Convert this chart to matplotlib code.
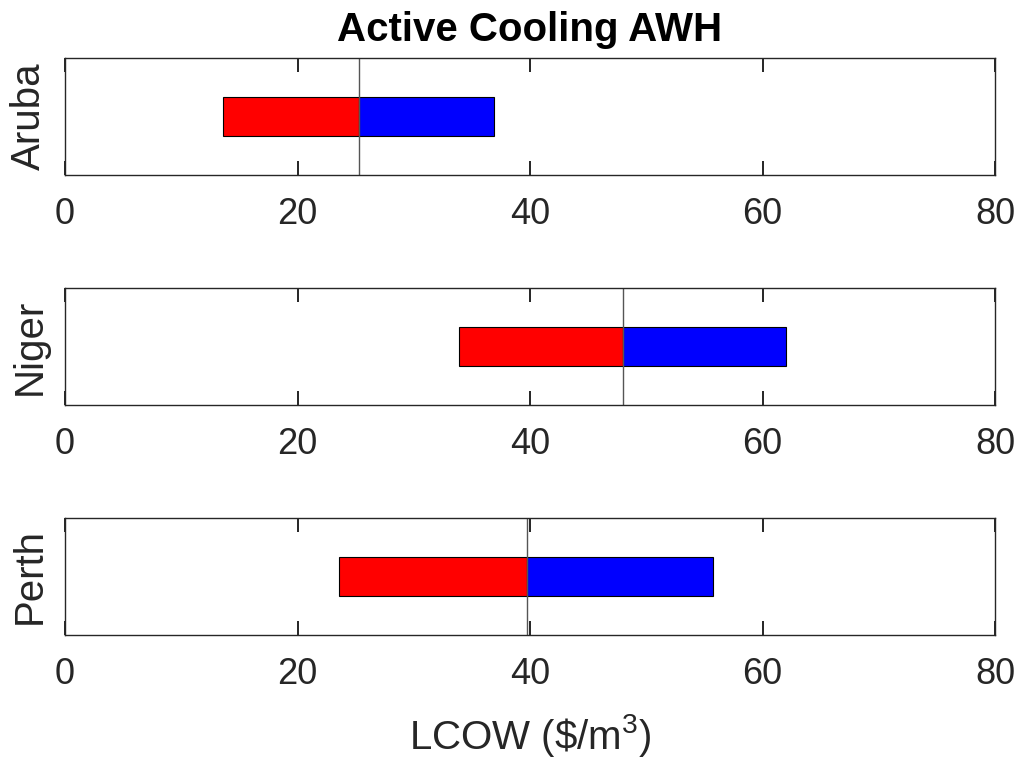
import numpy as np
import matplotlib.pyplot as plt

plt.rcParams['font.family'] = ['Liberation Sans', 'DejaVu Sans']
plt.rcParams['mathtext.fontset'] = 'custom'
plt.rcParams['mathtext.rm'] = 'Liberation Sans'

sites = ["Aruba", "Niger", "Perth"]
low = [13.6, 33.9, 23.6]     # red bar left end
base = [25.3, 48.0, 39.7]    # centre line
high = [36.9, 62.0, 55.7]    # blue bar right end

fig = plt.figure(figsize=(10.21, 7.63), dpi=100)

tops = [58, 288, 518]
for i, name in enumerate(sites):
    top = tops[i]
    ax = fig.add_axes([65 / 1021, 1 - (top + 117) / 763, 930 / 1021, 117 / 763])
    ax.barh(1.5, base[i] - low[i], left=low[i], height=1.0, color='red',
            edgecolor='black', linewidth=0.8)
    ax.barh(1.5, high[i] - base[i], left=base[i], height=1.0, color='blue',
            edgecolor='black', linewidth=0.8)
    ax.axvline(base[i], color='#555555', linewidth=1)
    ax.set_xlim(0, 80)
    ax.set_ylim(0, 3)
    ax.set_xticks([0, 20, 40, 60, 80])
    ax.set_yticks([])
    ax.tick_params(axis='x', direction='in', length=10, width=1.2, top=True,
                   labelsize=26, labelcolor='#262626', color='black', pad=16)
    for s in ax.spines.values():
        s.set_color('#262626')
        s.set_linewidth(1)
    ax.set_ylabel(name, fontsize=29, color='#262626', labelpad=12)
    if i == 0:
        ax.set_title("Active Cooling AWH", fontsize=29, fontweight='bold', pad=12)
    if i == 2:
        ax.set_xlabel(r"LCOW (\$/m$^\mathrm{3}$)", fontsize=29, color='#262626',
                      labelpad=14)

plt.savefig("out.png")
